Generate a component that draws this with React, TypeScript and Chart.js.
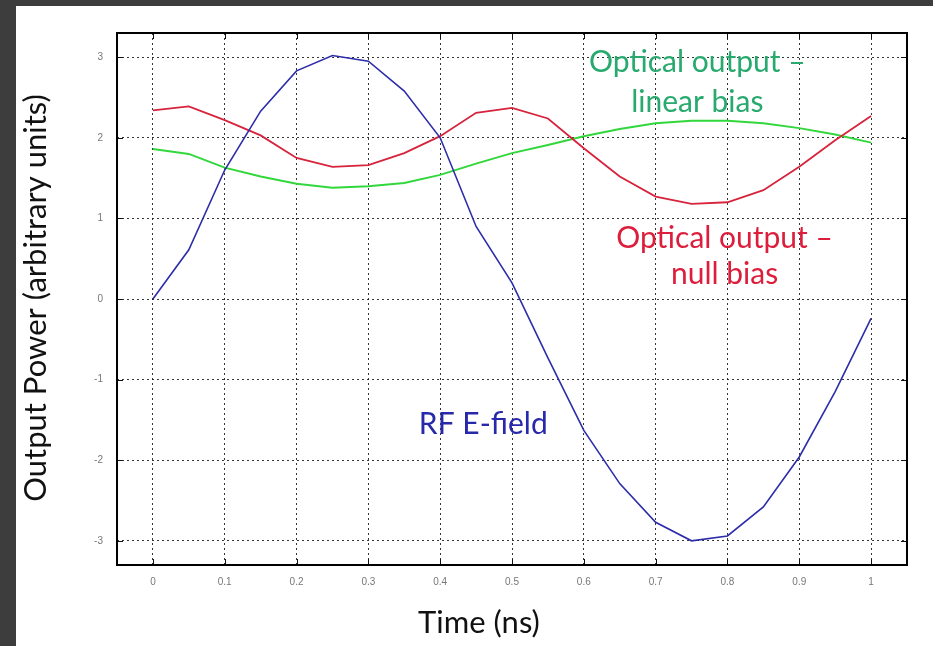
import React, { useEffect, useRef } from "react";
import { Chart, registerables } from "chart.js";

Chart.register(...registerables);

const times = [0, 0.05, 0.1, 0.15, 0.2, 0.25, 0.3, 0.35, 0.4, 0.45, 0.5, 0.55, 0.6, 0.65, 0.7, 0.75, 0.8, 0.85, 0.9, 0.95, 1];
const rfField = [0, 0.61, 1.6, 2.33, 2.83, 3.02, 2.95, 2.58, 2.0, 0.9, 0.2, -0.73, -1.63, -2.29, -2.77, -3.0, -2.94, -2.58, -1.96, -1.15, -0.24];
const nullBias = [2.34, 2.39, 2.22, 2.03, 1.75, 1.64, 1.66, 1.81, 2.02, 2.31, 2.37, 2.24, 1.87, 1.52, 1.27, 1.18, 1.2, 1.35, 1.64, 1.97, 2.27];
const linearBias = [1.86, 1.8, 1.63, 1.52, 1.43, 1.38, 1.4, 1.44, 1.54, 1.68, 1.81, 1.91, 2.02, 2.11, 2.18, 2.21, 2.21, 2.18, 2.12, 2.04, 1.94];

const xTicks = [0, 0.1, 0.2, 0.3, 0.4, 0.5, 0.6, 0.7, 0.8, 0.9, 1];
const yTicks = [-3, -2, -1, 0, 1, 2, 3];

const xTitle = "Time (ns)";
const yTitle = "Output Power (arbitrary units)";
const linearLabel = ["Optical output –", "linear bias"];
const nullLabel = ["Optical output –", "null bias"];
const rfLabel = ["RF E-field"];

const BLUE = "rgb(45,45,170)";
const RED = "rgb(215,35,60)";
const GREEN = "rgb(50,215,60)";
const GREEN_TEXT = "rgb(40,170,110)";
const RED_TEXT = "rgb(220,30,60)";
const BLUE_TEXT = "rgb(40,40,170)";
const TEXT_FONT = "Lato, 'Open Sans', sans-serif";

const toPoints = (ys: number[]) => times.map((t, i) => ({ x: t, y: ys[i] }));

const decorPlugin = {
  id: "decor",
  afterDraw(chart: any) {
    const { ctx, chartArea, scales } = chart;
    const xs = scales.x;
    const ys = scales.y;
    ctx.save();
    // inner tick marks
    ctx.strokeStyle = "#111";
    ctx.lineWidth = 1;
    ctx.setLineDash([]);
    ctx.beginPath();
    xTicks.forEach((v) => {
      const px = Math.round(xs.getPixelForValue(v)) + 0.5;
      ctx.moveTo(px, chartArea.top);
      ctx.lineTo(px, chartArea.top + 6);
      ctx.moveTo(px, chartArea.bottom);
      ctx.lineTo(px, chartArea.bottom - 6);
    });
    yTicks.forEach((v) => {
      const py = Math.round(ys.getPixelForValue(v)) + 0.5;
      ctx.moveTo(chartArea.left, py);
      ctx.lineTo(chartArea.left + 6, py);
      ctx.moveTo(chartArea.right, py);
      ctx.lineTo(chartArea.right - 6, py);
    });
    ctx.stroke();
    // frame
    ctx.lineWidth = 2;
    ctx.strokeStyle = "#000";
    ctx.strokeRect(chartArea.left, chartArea.top, chartArea.right - chartArea.left, chartArea.bottom - chartArea.top);

    // annotations
    ctx.textAlign = "center";
    ctx.textBaseline = "middle";
    ctx.font = `30px ${TEXT_FONT}`;
    const drawLines = (lines: string[], x: number, y: number, dy: number, color: string) => {
      ctx.fillStyle = color;
      lines.forEach((s, i) => {
        ctx.fillText(s, xs.getPixelForValue(x), ys.getPixelForValue(y) + i * dy);
      });
    };
    drawLines(linearLabel, 0.758, 2.94, 40, GREEN_TEXT);
    drawLines(nullLabel, 0.796, 0.757, 36, RED_TEXT);
    drawLines(rfLabel, 0.46, -1.56, 0, BLUE_TEXT);

    // axis titles
    ctx.fillStyle = "#111";
    ctx.font = `31px ${TEXT_FONT}`;
    ctx.fillText(xTitle, 479, 623);
    ctx.translate(36, 298);
    ctx.rotate(-Math.PI / 2);
    ctx.fillText(yTitle, 0, 0);
    ctx.restore();
  },
};

export default function App() {
  const ref = useRef<HTMLCanvasElement>(null);
  useEffect(() => {
    if (!ref.current) return;
    const gridCfg = {
      color: "rgba(20,20,20,0.85)",
      lineWidth: 1,
      drawTicks: false,
    };
    const chart = new Chart(ref.current, {
      type: "line",
      data: {
        datasets: [
          { label: "RF E-field", data: toPoints(rfField), borderColor: BLUE, borderWidth: 1.6, pointRadius: 0, tension: 0 },
          { label: "Optical output – null bias", data: toPoints(nullBias), borderColor: RED, borderWidth: 1.8, pointRadius: 0, tension: 0 },
          { label: "Optical output – linear bias", data: toPoints(linearBias), borderColor: GREEN, borderWidth: 2, pointRadius: 0, tension: 0 },
        ],
      },
      options: {
        animation: false,
        responsive: false,
        maintainAspectRatio: false,
        layout: { padding: { left: 0, top: 33, right: 26, bottom: 0 } },
        plugins: { legend: { display: false }, tooltip: { enabled: false }, title: { display: false } },
        scales: {
          x: {
            type: "linear",
            min: -0.05,
            max: 1.05,
            afterBuildTicks: (s: any) => {
              s.ticks = xTicks.map((v) => ({ value: v }));
            },
            afterFit: (s: any) => {
              s.height = 81;
            },
            border: { display: false, dash: [2, 3] },
            grid: { ...gridCfg },
            ticks: {
              color: "#777",
              font: { family: "'Liberation Sans', Arial, sans-serif", size: 10 },
              padding: 11,
              maxRotation: 0,
              callback: (v: any) => String(Math.round(Number(v) * 10) / 10),
            },
          },
          y: {
            type: "linear",
            min: -3.3,
            max: 3.3,
            afterBuildTicks: (s: any) => {
              s.ticks = yTicks.map((v) => ({ value: v }));
            },
            afterFit: (s: any) => {
              s.width = 117;
            },
            border: { display: false, dash: [2, 3] },
            grid: { ...gridCfg },
            ticks: {
              color: "#777",
              font: { family: "'Liberation Sans', Arial, sans-serif", size: 10 },
              padding: 14,
            },
          },
        },
      },
      plugins: [decorPlugin],
    } as any);
    return () => chart.destroy();
  }, []);

  return (
    <div style={{ position: "absolute", left: 0, top: 0, width: 933, height: 646, background: "#3d3d3d", overflow: "hidden" }}>
      <div style={{ position: "absolute", left: 16, top: 6, width: 917, height: 640, background: "#fff" }} />
      <canvas ref={ref} width={933} height={646} style={{ position: "absolute", left: 0, top: 0, width: 933, height: 646 }} />
    </div>
  );
}
